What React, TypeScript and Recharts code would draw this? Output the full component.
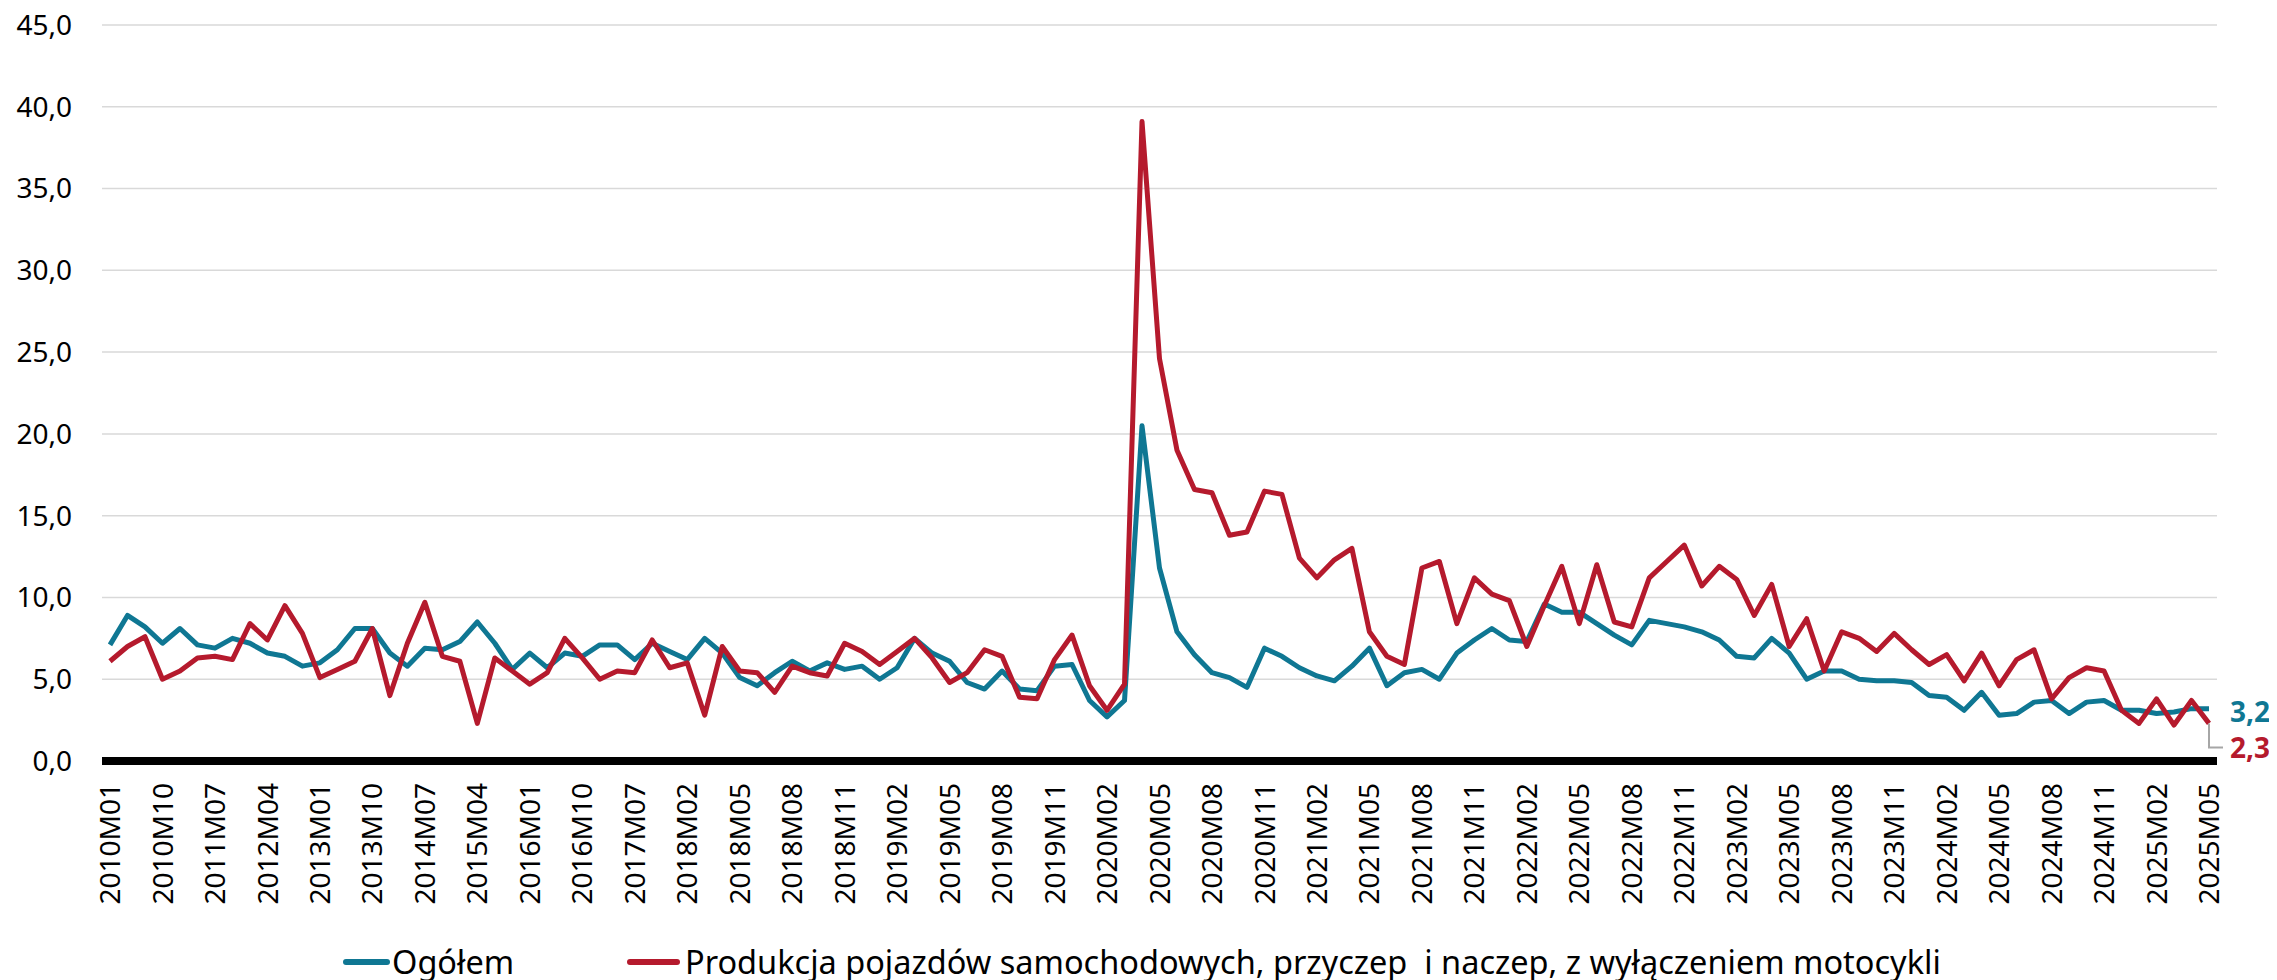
import React from 'react';
import { LineChart, Line, XAxis, YAxis, CartesianGrid, Legend, LabelList } from 'recharts';

const categories = [
  '2010M01', '2010M04', '2010M07', '2010M10',
  '2011M01', '2011M04', '2011M07', '2011M10',
  '2012M01', '2012M04', '2012M07', '2012M10',
  '2013M01', '2013M04', '2013M07', '2013M10',
  '2014M01', '2014M04', '2014M07', '2014M10',
  '2015M01', '2015M04', '2015M07', '2015M10',
  '2016M01', '2016M04', '2016M07', '2016M10',
  '2017M01', '2017M04', '2017M07', '2017M10',
  '2018M01',
  '2018M02', '2018M03', '2018M04', '2018M05', '2018M06', '2018M07', '2018M08', '2018M09', '2018M10', '2018M11', '2018M12',
  '2019M01', '2019M02', '2019M03', '2019M04', '2019M05', '2019M06', '2019M07', '2019M08', '2019M09', '2019M10', '2019M11', '2019M12',
  '2020M01', '2020M02', '2020M03', '2020M04', '2020M05', '2020M06', '2020M07', '2020M08', '2020M09', '2020M10', '2020M11', '2020M12',
  '2021M01', '2021M02', '2021M03', '2021M04', '2021M05', '2021M06', '2021M07', '2021M08', '2021M09', '2021M10', '2021M11', '2021M12',
  '2022M01', '2022M02', '2022M03', '2022M04', '2022M05', '2022M06', '2022M07', '2022M08', '2022M09', '2022M10', '2022M11', '2022M12',
  '2023M01', '2023M02', '2023M03', '2023M04', '2023M05', '2023M06', '2023M07', '2023M08', '2023M09', '2023M10', '2023M11', '2023M12',
  '2024M01', '2024M02', '2024M03', '2024M04', '2024M05', '2024M06', '2024M07', '2024M08', '2024M09', '2024M10', '2024M11', '2024M12',
  '2025M01', '2025M02', '2025M03', '2025M04', '2025M05',
];

const ogolem = [
  7.1, 8.9, 8.2, 7.2, 8.1, 7.1, 6.9, 7.5, 7.2, 6.6,
  6.4, 5.8, 6.0, 6.8, 8.1, 8.1, 6.6, 5.8, 6.9, 6.8,
  7.3, 8.5, 7.2, 5.6, 6.6, 5.7, 6.6, 6.4, 7.1, 7.1,
  6.2, 7.2, 6.7, 6.2, 7.5, 6.6, 5.1, 4.6, 5.4, 6.1,
  5.5, 6.0, 5.6, 5.8, 5.0, 5.7, 7.5, 6.6, 6.1, 4.8,
  4.4, 5.5, 4.4, 4.3, 5.8, 5.9, 3.7, 2.7, 3.7, 20.5,
  11.8, 7.9, 6.5, 5.4, 5.1, 4.5, 6.9, 6.4, 5.7, 5.2,
  4.9, 5.8, 6.9, 4.6, 5.4, 5.6, 5.0, 6.6, 7.4, 8.1,
  7.4, 7.3, 9.6, 9.1, 9.1, 8.4, 7.7, 7.1, 8.6, 8.4,
  8.2, 7.9, 7.4, 6.4, 6.3, 7.5, 6.6, 5.0, 5.5, 5.5,
  5.0, 4.9, 4.9, 4.8, 4.0, 3.9, 3.1, 4.2, 2.8, 2.9,
  3.6, 3.7, 2.9, 3.6, 3.7, 3.1, 3.1, 2.9, 3.0, 3.2,
  3.2,
];

const produkcja = [
  6.1, 7.0, 7.6, 5.0, 5.5, 6.3, 6.4, 6.2, 8.4, 7.4,
  9.5, 7.8, 5.1, 5.6, 6.1, 8.1, 4.0, 7.2, 9.7, 6.4,
  6.1, 2.3, 6.3, 5.5, 4.7, 5.4, 7.5, 6.3, 5.0, 5.5,
  5.4, 7.4, 5.7, 6.0, 2.8, 7.0, 5.5, 5.4, 4.2, 5.8,
  5.4, 5.2, 7.2, 6.7, 5.9, 6.7, 7.5, 6.3, 4.8, 5.4,
  6.8, 6.4, 3.9, 3.8, 6.2, 7.7, 4.6, 3.1, 4.7, 39.1,
  24.6, 19.0, 16.6, 16.4, 13.8, 14.0, 16.5, 16.3, 12.4, 11.2,
  12.3, 13.0, 7.9, 6.4, 5.9, 11.8, 12.2, 8.4, 11.2, 10.2,
  9.8, 7.0, 9.5, 11.9, 8.4, 12.0, 8.5, 8.2, 11.2, 12.2,
  13.2, 10.7, 11.9, 11.1, 8.9, 10.8, 7.0, 8.7, 5.5, 7.9,
  7.5, 6.7, 7.8, 6.8, 5.9, 6.5, 4.9, 6.6, 4.6, 6.2,
  6.8, 3.8, 5.1, 5.7, 5.5, 3.1, 2.3, 3.8, 2.2, 3.7,
  2.3,
];

const yTicks = [0, 5, 10, 15, 20, 25, 30, 35, 40, 45];

const seriesNames = [
  'Ogółem',
  'Produkcja pojazdów samochodowych, przyczep\u00a0 i naczep, z wyłączeniem motocykli',
];

const TEAL = '#0f7793';
const RED = '#b51a2d';
const FONT = "'Noto Sans', sans-serif";

const data = categories.map((c, i) => ({
  cat: c,
  ogolem: ogolem[i],
  produkcja: produkcja[i],
}));

const fmt = (v: number) => v.toFixed(1).replace('.', ',');

const XTick = (props: any) => {
  const { x, y, payload } = props;
  const ty = y + 22;
  return (
    <text
      x={x}
      y={ty}
      transform={`rotate(-90 ${x} ${ty})`}
      textAnchor="end"
      dy="0.36em"
      fontSize={28}
      fontFamily={FONT}
      fill="#000"
    >
      {payload.value}
    </text>
  );
};

const lastIndex = categories.length - 1;

const TealEnd = (props: any) => {
  const { x, y, index, value } = props;
  if (index !== lastIndex) return null;
  return (
    <text x={x + 21} y={y + 13} fontSize={28} fontWeight={700} fontFamily={FONT} fill={TEAL}>
      {fmt(Number(value))}
    </text>
  );
};

const RedEnd = (props: any) => {
  const { x, y, index, value } = props;
  if (index !== lastIndex) return null;
  return (
    <g>
      <polyline
        points={`${x},${y} ${x},${y + 24} ${x + 14},${y + 24}`}
        fill="none"
        stroke="#a6a6a6"
        strokeWidth={2}
      />
      <text x={x + 21} y={y + 35} fontSize={28} fontWeight={700} fontFamily={FONT} fill={RED}>
        {fmt(Number(value))}
      </text>
    </g>
  );
};

const LegendContent = () => (
  <div style={{ position: 'relative', height: 36, width: '100%', fontFamily: FONT, fontSize: 32.5, color: '#000' }}>
    <div style={{ position: 'absolute', left: 335, top: 15, width: 47, height: 6, borderRadius: 3, background: TEAL }} />
    <div style={{ position: 'absolute', left: 384, top: 0, lineHeight: '36px', whiteSpace: 'pre' }}>{seriesNames[0]}</div>
    <div style={{ position: 'absolute', left: 619, top: 15, width: 53, height: 6, borderRadius: 3, background: RED }} />
    <div style={{ position: 'absolute', left: 677, top: 0, lineHeight: '36px', whiteSpace: 'pre' }}>{seriesNames[1]}</div>
  </div>
);

export default function App() {
  return (
    <div style={{ width: 2269, height: 980, marginTop: -8, background: '#fff' }}>
      <LineChart
        width={2269}
        height={980}
        data={data}
        margin={{ top: 25, right: 60, bottom: 0, left: 0 }}
      >
        <CartesianGrid vertical={false} stroke="#d9d9d9" strokeWidth={1.5} />
        <XAxis
          dataKey="cat"
          interval={2}
          padding={{ left: 8, right: 8 }}
          height={183}
          tickLine={false}
          tickSize={0}
          tickMargin={0}
          axisLine={{ stroke: '#000', strokeWidth: 8 }}
          tick={<XTick />}
        />
        <YAxis
          domain={[0, 45]}
          ticks={yTicks}
          width={94}
          tickLine={false}
          axisLine={false}
          tickSize={0}
          tickMargin={30}
          tickFormatter={fmt}
          tick={{ fontSize: 28, fontFamily: FONT, fill: '#000' }}
        />
        <Legend verticalAlign="bottom" content={<LegendContent />} />
        <Line
          type="linear"
          dataKey="ogolem"
          name={seriesNames[0]}
          stroke={TEAL}
          strokeWidth={5}
          strokeLinejoin="round"
          dot={false}
          isAnimationActive={false}
        >
          <LabelList dataKey="ogolem" content={<TealEnd />} />
        </Line>
        <Line
          type="linear"
          dataKey="produkcja"
          name={seriesNames[1]}
          stroke={RED}
          strokeWidth={5}
          strokeLinejoin="round"
          dot={false}
          isAnimationActive={false}
        >
          <LabelList dataKey="produkcja" content={<RedEnd />} />
        </Line>
      </LineChart>
    </div>
  );
}
